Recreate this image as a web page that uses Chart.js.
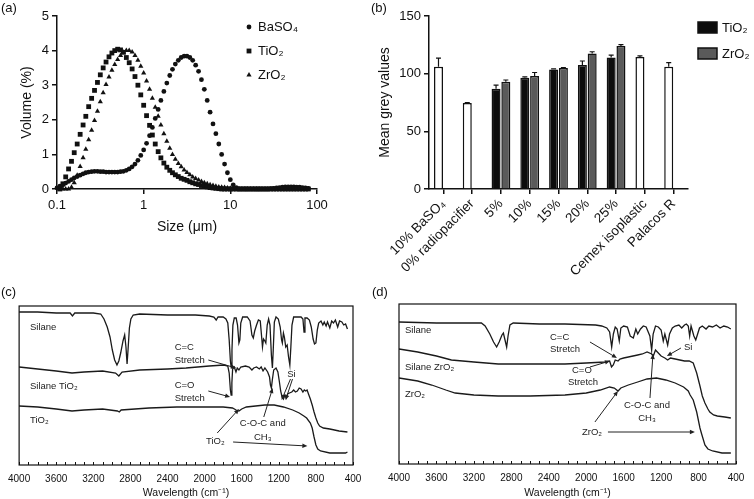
<!DOCTYPE html>
<html lang="en">
<head>
<meta charset="utf-8">
<title>Figure</title>
<script src="https://cdn.jsdelivr.net/npm/chart.js@4.4.1/dist/chart.umd.min.js"></script>
<style>
  html, body { margin: 0; padding: 0; background: #fff; }
  body { position: relative; width: 754px; height: 499px; overflow: hidden; }
  canvas { position: absolute; }
</style>
</head>
<body>
<canvas id="grafA" width="370" height="240" style="left:0;top:0"></canvas>
<canvas id="grafB" width="384" height="285" style="left:370px;top:0"></canvas>
<canvas id="grafC" width="370" height="214" style="left:0;top:285px"></canvas>
<canvas id="grafD" width="384" height="214" style="left:370px;top:285px"></canvas>
<script>
// ---- Panel (a): distribucion de tamano de particula ----
var tamanos = [0.1, 0.108, 0.117, 0.126, 0.136, 0.147, 0.158, 0.171, 0.185, 0.2,
  0.215, 0.232, 0.251, 0.271, 0.293, 0.316, 0.341, 0.368, 0.398, 0.43,
  0.464, 0.501, 0.541, 0.584, 0.631, 0.681, 0.736, 0.794, 0.858, 0.926,
  1, 1.08, 1.17, 1.26, 1.36, 1.47, 1.58, 1.71, 1.85, 2,
  2.15, 2.32, 2.51, 2.71, 2.93, 3.16, 3.41, 3.68, 3.98, 4.3,
  4.64, 5.01, 5.41, 5.84, 6.31, 6.81, 7.36, 7.94, 8.58, 9.26,
  10, 10.8, 11.7, 12.6, 13.6, 14.7, 15.8, 17.1, 18.5, 20,
  21.5, 23.2, 25.1, 27.1, 29.3, 31.6, 34.1, 36.8, 39.8, 43,
  46.4, 50.1, 54.1, 58.4, 63.1, 68.1, 73.6, 79.4];
var volBaSO4 = [0.03, 0.08, 0.12, 0.17, 0.22, 0.27, 0.32, 0.36, 0.4, 0.44,
  0.47, 0.49, 0.5, 0.51, 0.51, 0.5, 0.5, 0.49, 0.49, 0.49,
  0.49, 0.49, 0.5, 0.51, 0.54, 0.58, 0.64, 0.72, 0.83, 0.97,
  1.13, 1.32, 1.54, 1.78, 2.04, 2.3, 2.56, 2.82, 3.06, 3.28,
  3.46, 3.61, 3.72, 3.8, 3.84, 3.84, 3.8, 3.72, 3.58, 3.4,
  3.16, 2.88, 2.56, 2.22, 1.88, 1.6, 1.3, 1.0, 0.72, 0.47,
  0.27, 0.12, 0.04, 0, 0, 0, 0, 0, 0, 0,
  0, 0, 0, 0, 0.01, 0.02, 0.03, 0.04, 0.05, 0.06,
  0.06, 0.06, 0.06, 0.05, 0.05, 0.04, 0.03, 0.02];
var volTiO2 = [null, 0, 0.15, 0.35, 0.58, 0.8, 1.05, 1.3, 1.58, 1.85,
  2.1, 2.38, 2.62, 2.85, 3.08, 3.3, 3.5, 3.67, 3.82, 3.93,
  4.0, 4.04, 4.02, 3.95, 3.8, 3.65, 3.47, 3.25, 3.0, 2.72,
  2.42, 2.12, 1.84, 1.56, 1.3, 1.08, 0.9, 0.75, 0.63, 0.54,
  0.47, 0.41, 0.36, 0.31, 0.28, 0.25, 0.21, 0.18, 0.15, 0.13,
  0.1, 0.08, 0.06, 0.04, 0.03, 0.02, 0.01, 0, 0, 0,
  0, 0, 0, 0, 0, 0, 0, 0, 0, 0,
  0, 0, 0, 0, 0, 0, 0, 0, 0, 0,
  0, 0, 0, 0, 0, 0, 0, 0];
var volZrO2 = [null, 0, 0, 0, 0, 0.05, 0.18, 0.4, 0.65, 0.9,
  1.15, 1.42, 1.7, 1.98, 2.25, 2.52, 2.78, 3.02, 3.24, 3.43,
  3.6, 3.74, 3.86, 3.95, 4.0, 4.0, 3.96, 3.86, 3.72, 3.55,
  3.35, 3.12, 2.88, 2.62, 2.36, 2.1, 1.85, 1.6, 1.38, 1.18,
  1.0, 0.86, 0.74, 0.64, 0.55, 0.48, 0.41, 0.35, 0.3, 0.26,
  0.22, 0.18, 0.15, 0.12, 0.1, 0.08, 0.06, 0.05, 0.04, 0.03,
  0.02, 0.01, 0, 0, 0, 0, 0, 0, 0, 0,
  0, 0, 0, 0, 0, 0, 0, 0, 0, 0,
  0, 0, 0, 0, 0, 0, 0, 0];
var ticksTamano = [0.1, 1, 10, 100];

// ---- Panel (b): valores de gris ----
var categoriasB = ['10% BaSO₄', '0% radiopacifier', '5%', '10%', '15%', '20%', '25%', 'Cemex isoplastic', 'Palacos R'];
var valControl = [106, 74.5, null, null, null, null, null, 114.5, 106];
var sdControl  = [7.5, 0.5, null, null, null, null, null, 1, 3.5];
var valTiO2    = [null, null, 87, 96.5, 103.6, 107.5, 114, null, null];
var sdTiO2     = [null, null, 3, 0.8, 0.5, 3.5, 2, null, null];
var valZrO2    = [null, null, 93, 98, 105, 117.5, 124, null, null];
var sdZrO2     = [null, null, 1.5, 3, 0.3, 1.5, 1.2, null, null];

// ---- Panel (c): FTIR con TiO2 [numero de onda, senal] ----
var silanoC = [[4000,153],[3800,153],[3600,152],[3450,152],[3425,149],[3400,152],[3200,152],[3120,151],[3085,146],[3050,138],[3020,128],[2995,115],[2970,105],[2945,100],[2925,104],[2905,112],[2880,124],[2862,130],[2848,118],[2836,101],[2825,116],[2811,137],[2795,146],[2770,150],[2700,151],[2400,150],[2100,150],[1950,149],[1900,148],[1875,145],[1855,148],[1800,148],[1770,146],[1750,142],[1735,125],[1722,104],[1714,98],[1705,115],[1695,140],[1680,147],[1660,147],[1645,140],[1630,122],[1620,125],[1610,142],[1590,148],[1540,148],[1510,144],[1490,130],[1475,127],[1460,134],[1440,140],[1420,145],[1400,144],[1385,128],[1376,118],[1365,126],[1350,124],[1340,122],[1325,140],[1310,146],[1295,140],[1280,110],[1269,97],[1260,115],[1248,143],[1230,148],[1205,146],[1185,138],[1170,125],[1162,122],[1150,132],[1140,128],[1125,118],[1110,120],[1095,108],[1081,100],[1070,118],[1058,140],[1040,148],[1000,148],[960,148],[940,146],[928,133],[918,147],[895,147],[870,145],[850,138],[830,126],[815,121],[800,122],[785,135],[770,142],[745,144],[725,140],[710,143],[690,139],[675,143],[650,137],[630,144],[610,142],[590,145],[565,138],[545,144],[520,143],[500,140],[480,141],[460,136]];
var silanoTiO2C = [[4000,98],[3800,96],[3600,94],[3430,92],[3300,93],[3100,94],[2960,92],[2925,89],[2890,93],[2700,95],[2400,96],[2200,97],[1950,99],[1790,100],[1750,99],[1735,92],[1722,75],[1714,70],[1706,82],[1698,96],[1680,98],[1662,93],[1648,97],[1630,95],[1610,98],[1560,99],[1520,98],[1490,95],[1470,97],[1440,98],[1410,96],[1390,98],[1370,94],[1350,97],[1320,93],[1300,88],[1290,80],[1280,77],[1270,85],[1255,95],[1230,97],[1210,93],[1195,84],[1180,74],[1165,68],[1150,66],[1135,70],[1120,67],[1105,71],[1085,72],[1060,73],[1040,75],[1020,73],[1000,74],[980,77],[960,76],[940,73],[925,75],[910,74],[895,75],[880,71],[860,66],[840,60],[820,53],[800,47],[780,42],[760,39],[720,37],[650,36],[550,34],[460,33]];
var tio2C = [[4000,59],[3800,58],[3600,56],[3430,54],[3300,55],[3100,56],[2940,54],[2920,53],[2900,55],[2600,57],[2300,58],[2000,58],[1800,58],[1700,57],[1660,55],[1630,54],[1600,56],[1550,58],[1450,59],[1350,60],[1250,60],[1150,58],[1050,55],[980,52],[930,49],[900,47],[860,42],[840,37],[820,28],[800,20],[780,16],[750,14],[650,12],[550,12],[480,12],[460,13]];

// ---- Panel (d): FTIR con ZrO2 ----
var silanoD = [[4000,142],[3600,141],[3300,141],[3120,141],[3080,138],[3030,130],[2990,122],[2957,117],[2930,122],[2900,129],[2885,131],[2870,125],[2850,117],[2835,128],[2815,139],[2780,141],[2500,140],[2227,140],[1900,139],[1835,138],[1780,136],[1750,132],[1728,117],[1710,130],[1690,137],[1670,135],[1647,123],[1630,136],[1600,138],[1560,137],[1530,128],[1497,126],[1470,135],[1450,130],[1420,135],[1390,138],[1360,137],[1320,128],[1301,114],[1285,130],[1260,138],[1230,137],[1200,134],[1177,123],[1160,130],[1130,119],[1110,130],[1080,136],[1050,138],[1010,139],[980,136],[950,139],[930,140],[910,138],[895,128],[880,138],[850,128],[830,124],[810,130],[790,136],[760,138],[720,135],[690,138],[650,137],[610,139],[570,136],[530,138],[490,137],[455,135]];
var silanoZrO2D = [[4000,115],[3800,112],[3600,108],[3440,104],[3200,102],[2940,100],[2600,100],[2227,100],[2000,101],[1800,102],[1750,103],[1730,97],[1711,99],[1690,104],[1660,103],[1640,105],[1600,106],[1550,107],[1500,108],[1450,109],[1400,110],[1350,112],[1300,110],[1283,108],[1260,114],[1240,112],[1200,108],[1160,106],[1130,104],[1100,106],[1050,105],[1000,104],[950,103],[900,103],[857,101],[820,91],[785,78],[760,68],[732,61],[700,55],[680,52],[640,49],[600,48],[520,47],[455,46]];
var zro2D = [[4000,86],[3800,83],[3650,79],[3500,74],[3400,71],[3200,69],[2940,68],[2600,68],[2227,69],[2000,71],[1850,74],[1750,77],[1700,76],[1660,73],[1630,76],[1550,79],[1450,82],[1350,85],[1250,86],[1150,84],[1050,81],[960,77],[910,73],[890,69],[857,64],[820,52],[785,36],[767,30],[732,19],[700,15],[650,13],[550,11],[455,11]];

var fuente = "'Liberation Sans', Arial, Helvetica, sans-serif";
var negro = '#111';
Chart.defaults.font.family = fuente;
Chart.defaults.color = negro;

// Letra del panel
function hacerRotulo(texto, x, y) {
  return { id: 'rotulo', afterDraw: function (chart) {
    var ctx = chart.ctx;
    ctx.save();
    ctx.font = '13px ' + fuente;
    ctx.fillStyle = negro;
    ctx.textAlign = 'left';
    ctx.textBaseline = 'middle';
    ctx.fillText(texto, x, y);
    ctx.restore();
  }};
}

function dibujarMarcador(ctx, estilo, x, y, r) {
  ctx.beginPath();
  if (estilo === 'circle') {
    ctx.arc(x, y, r, 0, Math.PI * 2);
  } else if (estilo === 'rect') {
    var s = r * Math.SQRT1_2;
    ctx.rect(x - s, y - s, 2 * s, 2 * s);
  } else {
    ctx.moveTo(x, y - r);
    ctx.lineTo(x + r * 0.866, y + r * 0.5);
    ctx.lineTo(x - r * 0.866, y + r * 0.5);
    ctx.closePath();
  }
  ctx.fill();
}

// Leyenda del panel (a), toma estilo y texto de los datasets
var leyendaA = { id: 'leyendaA', afterDraw: function (chart) {
  var ctx = chart.ctx;
  ctx.save();
  ctx.font = '13px ' + fuente;
  ctx.fillStyle = negro;
  ctx.textBaseline = 'middle';
  chart.data.datasets.forEach(function (ds, i) {
    var y = 27 + i * 24;
    dibujarMarcador(ctx, ds.pointStyle, 249, y, ds.pointRadius);
    ctx.fillText(ds.label, 258, y);
  });
  ctx.restore();
}};

// Leyenda del panel (b)
var leyendaB = { id: 'leyendaB', afterDraw: function (chart) {
  var ctx = chart.ctx;
  ctx.save();
  ctx.font = '13px ' + fuente;
  ctx.textBaseline = 'middle';
  chart.data.datasets.slice(1).forEach(function (ds, i) {
    var y = 22 + i * 26;
    ctx.fillStyle = ds.backgroundColor;
    ctx.fillRect(328, y, 19, 11);
    ctx.strokeStyle = negro;
    ctx.lineWidth = 1.5;
    ctx.strokeRect(328, y, 19, 11);
    ctx.fillStyle = negro;
    ctx.fillText(ds.label, 352, y + 6);
  });
  ctx.restore();
}};

// Barras de error (solo hacia arriba)
function hacerBarrasError(pares) {
  return { id: 'barrasError', afterDatasetsDraw: function (chart) {
    var ctx = chart.ctx, ey = chart.scales.y;
    ctx.save();
    ctx.strokeStyle = negro;
    ctx.lineWidth = 1.2;
    pares.forEach(function (p) {
      var meta = chart.getDatasetMeta(p[0]);
      var valores = chart.data.datasets[p[0]].data;
      p[1].forEach(function (sd, i) {
        if (valores[i] == null || sd == null) return;
        var x = meta.data[i].x;
        var yb = ey.getPixelForValue(valores[i]);
        var yt = ey.getPixelForValue(valores[i] + sd);
        ctx.beginPath();
        ctx.moveTo(x, yb); ctx.lineTo(x, yt);
        ctx.moveTo(x - 2.5, yt); ctx.lineTo(x + 2.5, yt);
        ctx.stroke();
      });
    });
    ctx.restore();
  }};
}

// Marco y marcas interiores para los espectros
var marco = { id: 'marco', afterDraw: function (chart) {
  var a = chart.chartArea, ctx = chart.ctx, ex = chart.scales.x;
  ctx.save();
  ctx.strokeStyle = negro;
  ctx.lineWidth = 1.2;
  ctx.strokeRect(a.left, a.top, a.right - a.left, a.bottom - a.top);
  ctx.lineWidth = 1;
  for (var v = ex.min; v <= ex.max; v += 100) {
    var x = Math.round(ex.getPixelForValue(v)) + 0.5;
    ctx.beginPath();
    ctx.moveTo(x, a.bottom);
    ctx.lineTo(x, a.bottom - 3);
    ctx.stroke();
  }
  ctx.restore();
}};

// Textos y flechas en coordenadas de datos
function hacerAnotaciones(textos, flechas) {
  return { id: 'anotaciones', afterDatasetsDraw: function (chart) {
    var ctx = chart.ctx, ex = chart.scales.x, ey = chart.scales.y;
    ctx.save();
    ctx.font = '9.5px ' + fuente;
    ctx.fillStyle = '#222';
    ctx.textBaseline = 'middle';
    textos.forEach(function (t) {
      ctx.textAlign = t[3];
      ctx.fillText(t[0], ex.getPixelForValue(t[1]), ey.getPixelForValue(t[2]));
    });
    ctx.strokeStyle = '#222';
    ctx.lineWidth = 1;
    flechas.forEach(function (f) {
      var x1 = ex.getPixelForValue(f[0]), y1 = ey.getPixelForValue(f[1]);
      var x2 = ex.getPixelForValue(f[2]), y2 = ey.getPixelForValue(f[3]);
      var ang = Math.atan2(y2 - y1, x2 - x1), L = 5, W = 2.2;
      ctx.beginPath();
      ctx.moveTo(x1, y1);
      ctx.lineTo(x2 - Math.cos(ang) * L * 0.8, y2 - Math.sin(ang) * L * 0.8);
      ctx.stroke();
      ctx.beginPath();
      ctx.moveTo(x2, y2);
      ctx.lineTo(x2 - L * Math.cos(ang) + W * Math.sin(ang), y2 - L * Math.sin(ang) - W * Math.cos(ang));
      ctx.lineTo(x2 - L * Math.cos(ang) - W * Math.sin(ang), y2 - L * Math.sin(ang) + W * Math.cos(ang));
      ctx.closePath();
      ctx.fill();
    });
    ctx.restore();
  }};
}

function puntos(valores) {
  var salida = [];
  for (var i = 0; i < tamanos.length; i++) {
    if (valores[i] != null) salida.push({ x: tamanos[i], y: valores[i] });
  }
  return salida;
}

var ejeNegro = { color: negro, width: 1.5 };
var marcasFuera = { drawOnChartArea: false, tickLength: 5, color: negro, lineWidth: 1.5 };

// ---------- (a) ----------
new Chart(document.getElementById('grafA'), {
  type: 'scatter',
  data: { datasets: [
    { label: 'BaSO₄', data: puntos(volBaSO4), pointStyle: 'circle', pointRadius: 2.4, backgroundColor: negro, borderWidth: 0, clip: false },
    { label: 'TiO₂', data: puntos(volTiO2), pointStyle: 'rect', pointRadius: 3.4, backgroundColor: negro, borderWidth: 0, clip: false },
    { label: 'ZrO₂', data: puntos(volZrO2), pointStyle: 'triangle', pointRadius: 3.0, backgroundColor: negro, borderWidth: 0, clip: false }
  ]},
  options: {
    responsive: false, animation: false, events: [],
    layout: { padding: { left: 15, top: 16, right: 53, bottom: 0 } },
    plugins: { legend: { display: false }, tooltip: { enabled: false } },
    scales: {
      x: {
        type: 'logarithmic', min: 0.1, max: 100,
        afterBuildTicks: function (eje) { eje.ticks = ticksTamano.map(function (v) { return { value: v }; }); },
        afterFit: function (eje) { eje.height = 51; },
        ticks: { font: { size: 13 }, padding: 4, callback: function (v) { return String(v); } },
        grid: marcasFuera, border: ejeNegro,
        title: { display: true, text: 'Size (μm)', font: { size: 14 } }
      },
      y: {
        min: 0, max: 5,
        afterFit: function (eje) { eje.width = 42; },
        ticks: { stepSize: 1, font: { size: 13 }, padding: 3 },
        grid: marcasFuera, border: ejeNegro,
        title: { display: true, text: 'Volume (%)', font: { size: 14 } }
      }
    }
  },
  plugins: [leyendaA, hacerRotulo('(a)', 1, 8)]
});

// ---------- (b) ----------
new Chart(document.getElementById('grafB'), {
  type: 'bar',
  data: { labels: categoriasB, datasets: [
    { label: 'Control', data: valControl, stack: 'a', backgroundColor: '#ffffff', borderColor: negro, borderWidth: 1.5 },
    { label: 'TiO₂', data: valTiO2, stack: 'a', backgroundColor: '#0d0d0d', borderColor: negro, borderWidth: 1.5 },
    { label: 'ZrO₂', data: valZrO2, stack: 'b', backgroundColor: '#5a5a5a', borderColor: negro, borderWidth: 1.5 }
  ]},
  options: {
    responsive: false, animation: false, events: [],
    layout: { padding: { left: 3, top: 16, right: 66, bottom: 0 } },
    datasets: { bar: { categoryPercentage: 0.68, barPercentage: 0.92 } },
    plugins: { legend: { display: false }, tooltip: { enabled: false } },
    scales: {
      x: {
        afterFit: function (eje) { eje.height = 96; },
        ticks: { font: { size: 13.5 }, minRotation: 45, maxRotation: 45, autoSkip: false, padding: 2 },
        grid: { drawOnChartArea: false, offset: false, tickLength: 5, color: negro, lineWidth: 1.5 },
        border: ejeNegro
      },
      y: {
        min: 0, max: 150,
        afterFit: function (eje) { eje.width = 56; },
        ticks: { stepSize: 50, font: { size: 13 }, padding: 3 },
        grid: marcasFuera, border: ejeNegro,
        title: { display: true, text: 'Mean grey values', font: { size: 14 } }
      }
    }
  },
  plugins: [leyendaB, hacerBarrasError([[0, sdControl], [1, sdTiO2], [2, sdZrO2]]), hacerRotulo('(b)', 1, 8)]
});

// ---------- (c) y (d) ----------
function opcionesFTIR(padding, alto, ymax) {
  return {
    responsive: false, animation: false, events: [],
    layout: { padding: padding },
    plugins: { legend: { display: false }, tooltip: { enabled: false } },
    elements: { point: { radius: 0 }, line: { borderWidth: 1.3, borderColor: '#1a1a1a', tension: 0 } },
    scales: {
      x: {
        type: 'linear', reverse: true, min: 400, max: 4000,
        afterFit: function (eje) { eje.height = alto; },
        ticks: { stepSize: 400, font: { size: 10 }, padding: 8, maxRotation: 0,
                 callback: function (v) { return String(v); } },
        grid: { display: false, drawTicks: false },
        border: { display: false },
        title: { display: true, text: 'Wavelength (cm⁻¹)', font: { size: 10.5 }, padding: { top: 0, bottom: 0 } }
      },
      y: { display: false, min: 0, max: ymax }
    }
  };
}

function serie(datos) {
  return { data: datos, borderColor: '#1a1a1a', fill: false };
}

new Chart(document.getElementById('grafC'), {
  type: 'line',
  data: { datasets: [serie(silanoC), serie(silanoTiO2C), serie(tio2C)] },
  options: opcionesFTIR({ left: 16, top: 21, right: 17, bottom: 0 }, 34, 159),
  plugins: [marco, hacerRotulo('(c)', 1, 7), hacerAnotaciones(
    [['Silane', 3883, 138, 'left'], ['Silane TiO₂', 3883, 79, 'left'], ['TiO₂', 3883, 45, 'left'],
     ['C=C', 2323, 118, 'left'], ['Stretch', 2323, 105, 'left'],
     ['C=O', 2323, 80, 'left'], ['Stretch', 2323, 67, 'left'],
     ['Si', 1063, 91, 'center'], ['C-O-C and', 1373, 42, 'center'], ['CH₃', 1373, 28, 'center'],
     ['TiO₂', 1885, 24, 'center']],
    [[1960, 105, 1661, 97], [1960, 74, 1725, 68], [1074, 86, 1170, 65], [1052, 86, 1127, 65],
     [1362, 48, 1266, 77], [1864, 32, 1629, 56], [1693, 23, 892, 19]])]
});

new Chart(document.getElementById('grafD'), {
  type: 'line',
  data: { datasets: [serie(silanoD), serie(silanoZrO2D), serie(zro2D)] },
  options: opcionesFTIR({ left: 29, top: 19, right: 18, bottom: 0 }, 35, 160),
  plugins: [marco, hacerRotulo('(d)', 2, 7), hacerAnotaciones(
    [['Silane', 3936, 134, 'left'], ['Silane ZrO₂', 3936, 97, 'left'], ['ZrO₂', 3936, 70, 'left'],
     ['C=C', 2387, 127, 'left'], ['Stretch', 2387, 115, 'left'],
     ['C=O', 2152, 94, 'left'], ['Stretch', 2195, 82, 'left'],
     ['Si', 956, 117, 'left'], ['C-O-C and', 1351, 59, 'center'], ['CH₃', 1351, 46, 'center'],
     ['ZrO₂', 1939, 32, 'center']],
    [[1960, 122, 1672, 106], [1960, 97, 1747, 103], [988, 116, 1138, 108],
     [1319, 66, 1287, 110], [1907, 42, 1661, 73], [1768, 32, 839, 32]])]
});
</script>
</body>
</html>
